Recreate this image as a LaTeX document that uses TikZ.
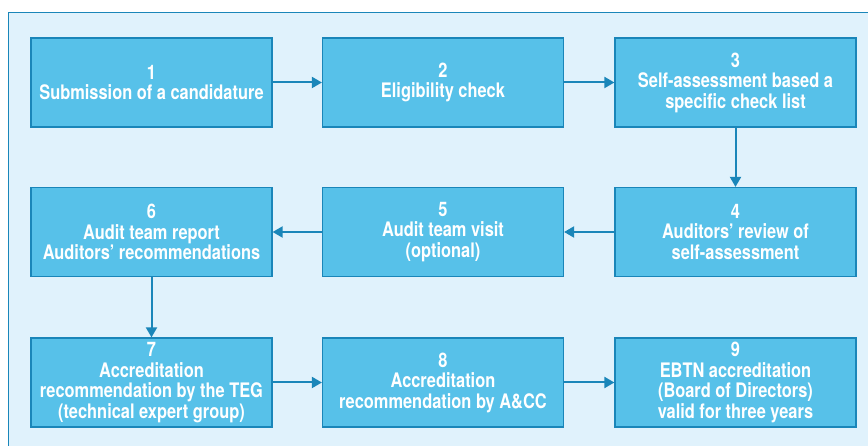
\documentclass[tikz,border=0pt]{standalone}
\usepackage{fontspec}
\setmainfont[FakeStretch=0.82]{TeX Gyre Heros}
\usetikzlibrary{arrows.meta}
\definecolor{bgblue}{HTML}{E0F2FC}
\definecolor{boxfill}{HTML}{57C1E9}
\definecolor{edgeblue}{HTML}{1A86B9}
\tikzset{
  stepbox/.style={draw=edgeblue, line width=1.2pt, fill=boxfill, minimum width=241pt, minimum height=89pt,
    inner sep=0pt, align=center, text=white, font=\bfseries\fontsize{20}{20.5}\selectfont},
  flow/.style={draw=edgeblue, line width=2pt, -{Triangle[length=10pt,width=11pt]}}
}
\begin{document}
\begin{tikzpicture}[x=1pt,y=-1pt]
\useasboundingbox (0,0) rectangle (868,446);
\fill[white] (0,0) rectangle (868,446);
\begin{scope}
\clip (0,0) rectangle (868,446);
\draw[draw=edgeblue, line width=1.3pt, fill=bgblue] (8.5,12.5) rectangle (900,480);
\end{scope}
\node[stepbox] (n1) at (151.5,82.5) {1\\Submission of a candidature};
\node[stepbox] (n2) at (443,82.5) {2\\Eligibility check};
\node[stepbox] (n3) at (735.5,82.5) {3\\Self-assessment based a\\specific check list};
\node[stepbox] (n4) at (735.5,232) {4\\Auditors’ review of\\self-assessment};
\node[stepbox] (n5) at (443,232) {5\\Audit team visit\\(optional)};
\node[stepbox] (n6) at (151.5,232) {6\\Audit team report\\Auditors’ recommendations};
\node[stepbox] (n7) at (151.5,382.5) {7\\Accreditation\\recommendation by the TEG\\(technical expert group)};
\node[stepbox] (n8) at (443,382.5) {8\\Accreditation\\recommendation by A\&CC};
\node[stepbox] (n9) at (735.5,382.5) {9\\EBTN accreditation\\(Board of Directors)\\valid for three years};
\draw[flow] (n1) -- (n2);
\draw[flow] (n2) -- (n3);
\draw[flow] (n3) -- (n4);
\draw[flow] (n4) -- (n5);
\draw[flow] (n5) -- (n6);
\draw[flow] (n6) -- (n7);
\draw[flow] (n7) -- (n8);
\draw[flow] (n8) -- (n9);
\end{tikzpicture}
\end{document}
